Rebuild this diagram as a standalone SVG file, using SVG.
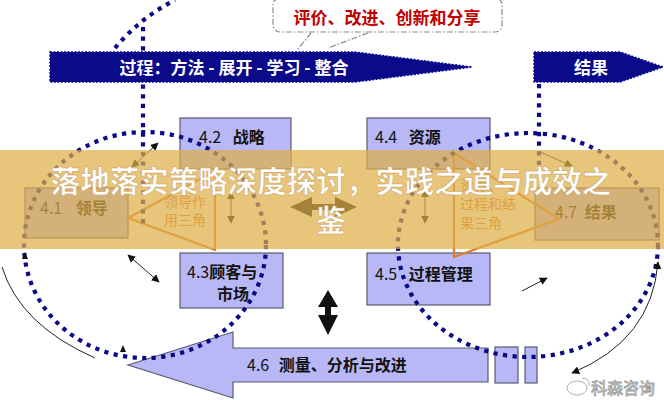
<svg xmlns="http://www.w3.org/2000/svg" width="664" height="400" viewBox="0 0 664 400">
<defs>
<style>
text{font-family:"Noto Sans CJK SC","Noto Sans",sans-serif;}
.box{fill:#b8b8f6;stroke:#5a5a70;stroke-width:1.2;}
.lbl{font-size:16px;fill:#111;}
.b{font-weight:bold;}
.dot{fill:none;stroke:#0a0a86;stroke-width:4.2;stroke-dasharray:4.2 5.4;}
.tri{fill:none;stroke:#e07a2c;stroke-width:2.2;stroke-linejoin:miter;}
.tritx{font-size:14px;fill:#e07a2c;}
.thin{fill:none;stroke:#222;stroke-width:1;}
.ban{fill:#0a0a8a;stroke:#0a0a8a;stroke-width:1.5;stroke-dasharray:2 1.5;}
.bantx{font-size:17px;font-weight:bold;fill:#fff;}
</style>
<marker id="ah" viewBox="0 0 10 10" refX="9" refY="5" markerWidth="8" markerHeight="8" markerUnits="userSpaceOnUse" orient="auto-start-reverse">
<path d="M0,0 L10,5 L0,10 z" fill="#111"/>
</marker>
</defs>
<rect width="664" height="400" fill="#fff"/>

<g id="callout">
<rect x="273" y="-2" width="229" height="34" rx="7" fill="#fff" stroke="#8a8a8a" stroke-width="1.2" stroke-dasharray="6 2 1.5 2"/>
<path d="M311,33 L297,50 M368,33 L328,48" stroke="#8a8a8a" stroke-width="1.2" stroke-dasharray="6 2 1.5 2" fill="none"/>
<text x="387" y="24" text-anchor="middle" font-size="17" font-weight="bold" fill="#c00000">评价、改进、创新和分享</text>
</g>

<g id="process-banner">
<polygon class="ban" points="50,52 355,52 472,67 355,82 50,82"/>
<text class="bantx" x="234" y="74" text-anchor="middle">过程：方法 - 展开 - 学习 - 整合</text>
</g>
<g id="result-banner">
<polygon class="ban" points="534,52 620,52 663,67 620,82 534,82"/>
<text class="bantx" x="591" y="74" text-anchor="middle" font-size="16">结果</text>
</g>

<g id="n46">
<polygon points="128,365 233,332 233,348 488,348 488,382 233,382 233,398" fill="#b8b8f6" stroke="#5a5a70" stroke-width="1.2"/>
<text class="lbl" x="247" y="371">4.6 <tspan class="b" dx="6">测量、分析与改进</tspan></text>
</g>
<g id="n46-tail">
<rect class="box" x="495" y="347" width="23" height="36"/>
<rect class="box" x="525" y="347" width="12" height="36"/>
</g>

<g id="n42"><rect class="box" x="180" y="118" width="111" height="51"/>
<text class="lbl" x="199" y="143">4.2 <tspan class="b" dx="8">战略</tspan></text></g>
<g id="n44"><rect class="box" x="367" y="118" width="123" height="51"/>
<text class="lbl" x="375" y="143">4.4 <tspan class="b" dx="8">资源</tspan></text></g>
<g id="n41"><rect class="box" x="25" y="188" width="103" height="50"/>
<text class="lbl" x="40" y="214">4.1 <tspan class="b" dx="10">领导</tspan></text></g>
<g id="n47"><rect class="box" x="535" y="188" width="124" height="52"/>
<text class="lbl" x="555" y="218">4.7 <tspan class="b" dx="4">结果</tspan></text></g>
<g id="n43"><rect class="box" x="180" y="253" width="103" height="55"/>
<text class="lbl" x="187" y="278">4.3<tspan class="b">顾客与</tspan></text>
<text class="lbl b" x="233" y="300" text-anchor="middle">市场</text></g>
<g id="n45"><rect class="box" x="367" y="253" width="123" height="52"/>
<text class="lbl" x="375" y="280">4.5 <tspan class="b" dx="8">过程管理</tspan></text></g>

<g id="triangles">
<polygon class="tri" points="128,218 215,171 215,250"/>
<text class="tritx" x="185" y="207" text-anchor="middle">领导作</text>
<text class="tritx" x="185" y="225" text-anchor="middle">用三角</text>
<polygon class="tri" points="454,153 559,219 454,257"/>
<text class="tritx" x="460" y="190">资源、</text>
<text class="tritx" x="460" y="209">过程和结</text>
<text class="tritx" x="460" y="228">果三角</text>
</g>

<g id="connectors">
<ellipse class="dot" cx="145" cy="245" rx="121" ry="113"/>
<ellipse class="dot" cx="528" cy="245" rx="130" ry="112"/>
<path class="dot" d="M143,27 L143,228"/>
<path class="dot" d="M539,84 L539,165"/>
<path class="dot" d="M115,48 Q140,18 175,0"/>
<line class="thin" x1="132" y1="167" x2="158" y2="143" marker-start="url(#ah)" marker-end="url(#ah)"/>
<line class="thin" x1="231" y1="192" x2="231" y2="223" marker-start="url(#ah)" marker-end="url(#ah)"/>
<line class="thin" x1="425" y1="190" x2="425" y2="223" marker-start="url(#ah)" marker-end="url(#ah)"/>
<line class="thin" x1="128" y1="255" x2="159" y2="282" marker-start="url(#ah)" marker-end="url(#ah)"/>
<line class="thin" x1="540" y1="152" x2="572" y2="166" marker-end="url(#ah)"/>
<line class="thin" x1="522" y1="291" x2="547" y2="278" marker-end="url(#ah)"/>
<path class="thin" d="M658,262 Q652,340 572,373" marker-start="url(#ah)" marker-end="url(#ah)"/>
<path class="thin" d="M2,267 Q20,325 95,358"/>
<path d="M22,259 L25,252 L28,259 z M120,352 L123,345 L126,352 z" fill="#111"/>
<polygon points="290,207 312,197 312,204 335,204 335,197 357,207 335,217 335,210 312,210 312,217" fill="#111"/>
<polygon points="328,290 338,307 331,307 331,315 338,315 328,335 318,315 325,315 325,307 318,307" fill="#111"/>
</g>

<g id="watermark" font-size="16" fill="#fff" stroke="#9a9a9a" stroke-width="0.8">
<ellipse cx="577" cy="388" rx="10" ry="7" fill="#fff"/>
<path d="M582,378 Q590,378 589,386" fill="none"/>
<text x="591" y="394" stroke-width="0.8">科森咨询</text>
</g>

<g id="overlay">
<rect x="0" y="150" width="664" height="99" fill="rgb(222,174,72)" fill-opacity="0.72"/>
<text x="331" y="192" text-anchor="middle" font-size="29.5" font-weight="bold" fill="#fff" stroke="#c9a060" stroke-width="0.5">落地落实策略深度探讨，实践之道与成效之</text>
<text x="331" y="231" text-anchor="middle" font-size="29.5" font-weight="bold" fill="#fff" stroke="#c9a060" stroke-width="0.5">鉴</text>
</g>
</svg>
